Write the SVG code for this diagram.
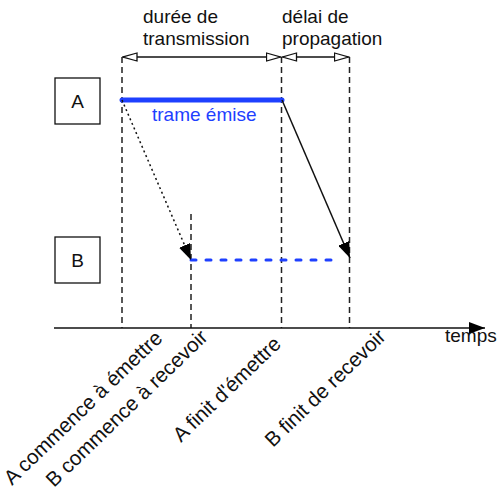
<svg xmlns="http://www.w3.org/2000/svg" width="500" height="496" viewBox="0 0 500 496">
<style>
text{font-family:"Liberation Sans",Arial,Helvetica,sans-serif;font-size:19px;fill:#111}
.rot{font-size:20.5px}
.blue{fill:#1e40ff}
.dash{stroke:#222;stroke-width:1.5;stroke-dasharray:6 4;fill:none}
.box{fill:#fff;stroke:#111;stroke-width:1.3}
.dim{stroke:#111;stroke-width:1.3;fill:none}
</style>
<defs>
<marker id="open" viewBox="0 0 16 10" refX="15" refY="5" markerWidth="16" markerHeight="10" markerUnits="userSpaceOnUse" orient="auto-start-reverse">
<path d="M1,1 L15,5 L1,9 Z" fill="#fff" stroke="#111" stroke-width="1.3"/>
</marker>
<marker id="fill" viewBox="0 0 16 12" refX="16" refY="6" markerWidth="16" markerHeight="12" markerUnits="userSpaceOnUse" orient="auto">
<path d="M0,0 L16,6 L0,12 Z" fill="#000"/>
</marker>
</defs>
<g id="guides">
<line class="dash" x1="122" y1="57" x2="122" y2="328"/>
<line class="dash" x1="191" y1="214" x2="191" y2="328"/>
<line class="dash" x1="281.5" y1="57" x2="281.5" y2="328"/>
<line class="dash" x1="349.5" y1="57" x2="349.5" y2="328"/>
</g>
<g id="node-A">
<rect class="box" x="55" y="78" width="45" height="46"/>
<text x="77.5" y="108" text-anchor="middle">A</text>
</g>
<g id="node-B">
<rect class="box" x="55" y="237" width="45" height="46"/>
<text x="77.5" y="267" text-anchor="middle">B</text>
</g>
<g id="connectors">
<line class="dim" x1="123" y1="57" x2="280.5" y2="57" marker-start="url(#open)" marker-end="url(#open)"/>
<line class="dim" x1="282.5" y1="57" x2="348.5" y2="57" marker-start="url(#open)" marker-end="url(#open)"/>
<line x1="122" y1="100" x2="282" y2="100" stroke="#1e40ff" stroke-width="5" stroke-linecap="round"/>
<line x1="191" y1="260" x2="340" y2="260" stroke="#1e40ff" stroke-width="3" stroke-dasharray="5 10" stroke-linecap="round"/>
<line x1="122" y1="100" x2="191" y2="260" stroke="#111" stroke-width="1.5" stroke-dasharray="2 3" marker-end="url(#fill)"/>
<line x1="282" y1="100" x2="350" y2="258" stroke="#111" stroke-width="1.5" marker-end="url(#fill)"/>
<line x1="54" y1="328" x2="485" y2="328" stroke="#111" stroke-width="1.5" marker-end="url(#fill)"/>
</g>
<g id="labels">
<text x="143" y="23">durée de</text>
<text x="143" y="45">transmission</text>
<text x="282" y="23">délai de</text>
<text x="282" y="45">propagation</text>
<text class="blue" x="152" y="121">trame émise</text>
<text x="445" y="342">temps</text>
<text class="rot" transform="translate(12,486) rotate(-44)">A commence à émettre</text>
<text class="rot" transform="translate(54,488) rotate(-44)">B commence à recevoir</text>
<text class="rot" transform="translate(181,443) rotate(-44)">A finit d'émettre</text>
<text class="rot" transform="translate(273,448) rotate(-44)">B finit de recevoir</text>
</g>
</svg>
